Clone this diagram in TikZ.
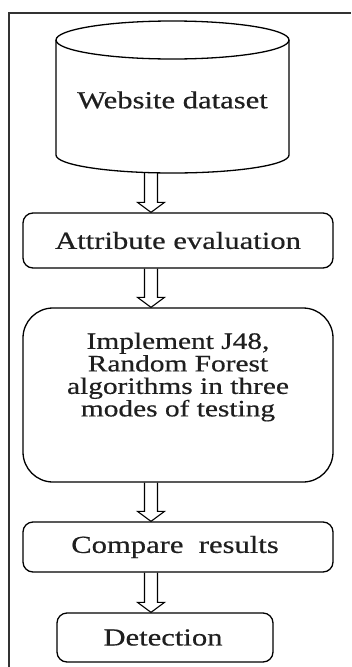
\documentclass[tikz,border=0pt]{standalone}
\usepackage{fontspec}
\setmainfont[FakeStretch=1.25,FakeBold=0.5]{Liberation Serif}
\usetikzlibrary{calc}
\begin{document}
\begin{tikzpicture}[x=1pt,y=-1pt,
  every node/.style={font=\fontsize{24.5}{22}\selectfont, text=black!88},
  box/.style={draw, line width=1.3pt, rounded corners=10pt, inner sep=0pt},
  lbl/.style={align=center, inner sep=0pt},
  hollow/.style={line width=1.1pt, line join=miter, to path={
    let \p1=(\tikztostart), \p2=(\tikztotarget) in
    (\x1-6.5pt,\y1) -- (\x1-6.5pt,\y2+10pt) -- (\x1-13.5pt,\y2+10pt) -- (\x2,\y2)
    -- (\x1+13.5pt,\y2+10pt) -- (\x1+6.5pt,\y2+10pt) -- (\x1+6.5pt,\y1)}}]
\useasboundingbox (0,0) rectangle (351,667);
\fill[white] (0,0) rectangle (351,667);
% frame
\draw[line width=2pt, black!80] (9,667) -- (9,13) -- (351,13);
% cylinder
\draw[line width=1.3pt] (56,40) -- (56,155) arc[start angle=180,end angle=0,x radius=116.5,y radius=18] -- (289,40);
\draw[line width=1.3pt] (172.5,40) ellipse[x radius=116.5,y radius=19];
\node[lbl] (ds) at (172.5,100) {Website dataset};
\coordinate (cylbot) at (151,172);
% boxes
\node[box, minimum width=310pt, minimum height=55pt] (attr) at (178,240.5) {};
\node[lbl] at (attr.center) {Attribute evaluation};
\node[box, rounded corners=30pt, minimum width=310pt, minimum height=174pt] (impl) at (178,395) {};
\node[lbl, font=\fontsize{23.5}{22.5}\selectfont] (impltext) at (178,377) {Implement J48,\\Random Forest\\algorithms in three\\modes of testing};
\node[box, minimum width=310pt, minimum height=50pt] (cmp) at (178,547) {};
\node[lbl] at (175,547) {Compare~~results};
\node[box, minimum width=216pt, minimum height=49pt] (det) at (165,637.5) {};
\node[lbl] at (163,637.5) {Detection};
% arrows
\coordinate (ax) at (151,0);
\draw[hollow] (cylbot) to (ax |- attr.north);
\draw[hollow] (ax |- attr.south) to (ax |- impl.north);
\draw[hollow] (ax |- impl.south) to (ax |- cmp.north);
\draw[hollow] (ax |- cmp.south) to (ax |- det.north);
\end{tikzpicture}
\end{document}
